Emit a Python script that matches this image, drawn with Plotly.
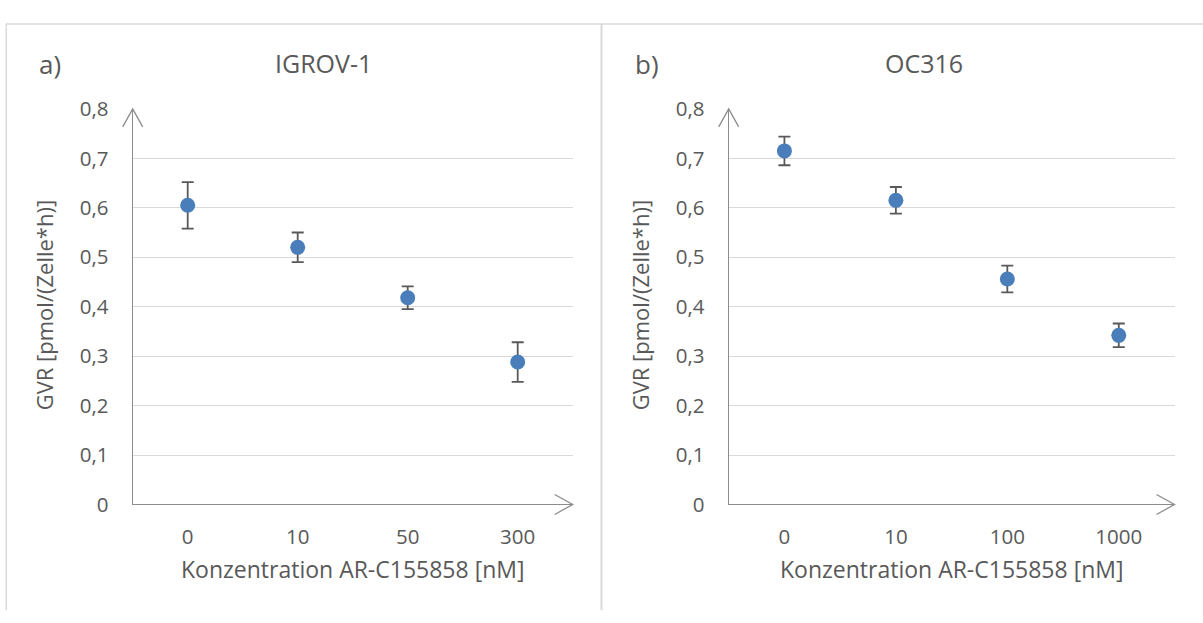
import plotly.graph_objects as go

# ---- data ----
cats_a = ["0", "10", "50", "300"]
vals_a = [0.605, 0.520, 0.418, 0.288]
err_a = [0.047, 0.030, 0.023, 0.040]

cats_b = ["0", "10", "100", "1000"]
vals_b = [0.715, 0.615, 0.456, 0.342]
err_b = [0.029, 0.027, 0.027, 0.024]

title_a = "IGROV-1"
title_b = "OC316"
label_a = "a)"
label_b = "b)"
x_title = "Konzentration AR-C155858 [nM]"
y_title = "GVR [pmol/(Zelle*h)]"

W, H = 1203, 623
FONT = "Open Sans"
TXT = "#595959"
MARK = "#4A7EBB"
GRID = "#D9D9D9"
AXL = "#8C8C8C"

fig = go.Figure()

for cats, vals, errs, xa, ya in [(cats_a, vals_a, err_a, "x", "y"),
                                 (cats_b, vals_b, err_b, "x2", "y2")]:
    fig.add_trace(go.Scatter(
        x=cats, y=vals, mode="markers", xaxis=xa, yaxis=ya,
        marker=dict(size=15, color=MARK),
        error_y=dict(type="data", array=errs, visible=True,
                     color=TXT, thickness=1.8, width=6),
        showlegend=False, hoverinfo="x+y"))

ydom = [1 - 512.5 / H, 1 - 98.3 / H]
xdom_a = [132.7 / W, 572.7 / W]
xdom_b = [728.7 / W, 1174.5 / W]

xcommon = dict(type="category", range=[-0.5, 3.5], showgrid=False,
               showline=True, linecolor=AXL, linewidth=1.3, ticks="",
               tickfont=dict(family=FONT, size=20.5, color=TXT),
               ticklabelstandoff=14, zeroline=False, fixedrange=True)
ycommon = dict(range=[0, 0.8], dtick=0.1, showgrid=True, gridcolor=GRID,
               gridwidth=1.3, showline=True, linecolor=AXL, linewidth=1.3,
               ticks="", tickfont=dict(family=FONT, size=20.5, color=TXT),
               ticklabelstandoff=19, zeroline=False, fixedrange=True,
               domain=ydom)

fig.update_layout(
    width=W, height=H, autosize=False,
    margin=dict(l=0, r=0, t=0, b=0),
    paper_bgcolor="white", plot_bgcolor="white",
    separators=",.",
    xaxis=dict(domain=xdom_a, anchor="y", **xcommon),
    yaxis=dict(anchor="x", **ycommon),
    xaxis2=dict(domain=xdom_b, anchor="y2", **xcommon),
    yaxis2=dict(anchor="x2", **ycommon),
)

shapes = []
# panel frames
shapes.append(dict(type="line", xref="paper", yref="paper",
                   x0=6 / W, x1=1, y0=1 - 9.3 / H, y1=1 - 9.3 / H,
                   line=dict(color=GRID, width=1.5)))
shapes.append(dict(type="line", xref="paper", yref="paper",
                   x0=6.3 / W, x1=6.3 / W, y0=0, y1=1 - 9.3 / H,
                   line=dict(color=GRID, width=1.5)))
shapes.append(dict(type="line", xref="paper", yref="paper",
                   x0=601.5 / W, x1=601.5 / W, y0=0, y1=1 - 9.3 / H,
                   line=dict(color=GRID, width=2)))
# axis arrowheads (open V)
for xr, yr in [("x", "y"), ("x2", "y2")]:
    shapes.append(dict(type="path", xref=xr + " domain", yref=yr + " domain",
                       xsizemode="pixel", ysizemode="pixel",
                       xanchor=0, yanchor=1,
                       path="M -10,-18 L 0,0 L 10,-18",
                       line=dict(color=AXL, width=1.3)))
    shapes.append(dict(type="path", xref=xr + " domain", yref=yr + " domain",
                       xsizemode="pixel", ysizemode="pixel",
                       xanchor=1, yanchor=0,
                       path="M -18,10 L 0,0 L -18,-10",
                       line=dict(color=AXL, width=1.3)))
fig.update_layout(shapes=shapes)

ann = []
def txt(t, x, y, size, angle=0):
    ann.append(dict(text=t, x=x / W, y=1 - y / H, xref="paper", yref="paper",
                    showarrow=False, xanchor="center", yanchor="middle",
                    textangle=angle, font=dict(family=FONT, size=size, color=TXT)))

txt(label_a, 50, 51, 26)
txt(title_a, 323, 50, 25)
txt(label_b, 646.5, 51, 26)
txt(title_b, 924, 50, 25)
txt(x_title, (xdom_a[0] + xdom_a[1]) / 2 * W, 580, 23)
txt(x_title, (xdom_b[0] + xdom_b[1]) / 2 * W, 580, 23)
txt(y_title, 44, 304, 22, -90)
txt(y_title, 640, 304, 22, -90)
fig.update_layout(annotations=ann)

post = ("document.documentElement.style.margin='0';"
        "document.body.style.margin='0';document.body.style.padding='0';"
        "document.body.style.overflow='hidden';"
        "var d=document.getElementById('{plot_id}');"
        "d.style.position='fixed';d.style.top='0px';d.style.left='0px';")
fig.write_html("out.html", post_script=post,
               config={"displayModeBar": False})
